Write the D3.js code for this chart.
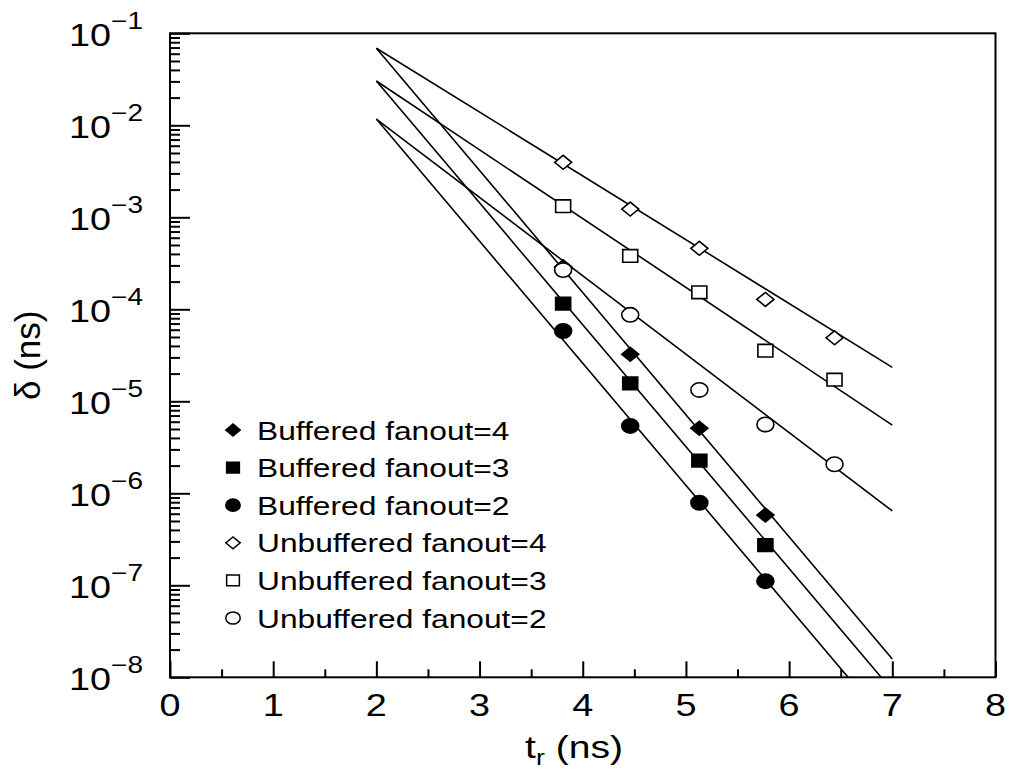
<!DOCTYPE html>
<html><head><meta charset="utf-8">
<script src="https://cdn.jsdelivr.net/npm/d3@7/dist/d3.min.js"></script>
<style>body{margin:0;background:#fff}svg{display:block}text{font-family:"Liberation Sans",Arial,sans-serif;fill:#000}</style>
</head><body>
<svg id="c" width="1010" height="775"></svg>
<script>
// ---- data ----
const xTicks = [0,1,2,3,4,5,6,7,8];
const yExps = [-1,-2,-3,-4,-5,-6,-7,-8];
const xBuf = [3.81, 4.46, 5.13, 5.77];
const xUnbuf = [3.81, 4.46, 5.13, 5.77, 6.44];
const buf4 = [2.9e-4, 3.24e-5, 5.1e-6, 5.8e-7];
const buf3 = [1.15e-4, 1.57e-5, 2.26e-6, 2.74e-7];
const buf2 = [5.8e-5, 5.4e-6, 7.9e-7, 1.11e-7];
const unbuf4 = [3.96e-3, 1.23e-3, 4.6e-4, 1.28e-4, 4.9e-5];
const unbuf3 = [1.32e-3, 3.8e-4, 1.53e-4, 3.55e-5, 1.72e-5];
const unbuf2 = [2.67e-4, 8.7e-5, 1.33e-5, 5.6e-6, 2.07e-6];
// fitted lines: [start, end] as [x, y]
const fitBuf4 = [[2, 0.0687], [7, 1.58e-8]];
const fitBuf3 = [[2, 0.0303], [7, 7.2e-9]];
const fitBuf2 = [[2, 0.0117], [7, 2.7e-9]];
const fitUnbuf4 = [[2, 0.0687], [7, 2.34e-5]];
const fitUnbuf3 = [[2, 0.0303], [7, 5.52e-6]];
const fitUnbuf2 = [[2, 0.0117], [7, 6.43e-7]];
const legendLabels = ["Buffered fanout=4","Buffered fanout=3","Buffered fanout=2","Unbuffered fanout=4","Unbuffered fanout=3","Unbuffered fanout=2"];

const series = [
  {name: legendLabels[0], xs: xBuf, ys: buf4, fit: fitBuf4, shape: "diamond", filled: true},
  {name: legendLabels[1], xs: xBuf, ys: buf3, fit: fitBuf3, shape: "square", filled: true},
  {name: legendLabels[2], xs: xBuf, ys: buf2, fit: fitBuf2, shape: "circle", filled: true},
  {name: legendLabels[3], xs: xUnbuf, ys: unbuf4, fit: fitUnbuf4, shape: "diamond", filled: false},
  {name: legendLabels[4], xs: xUnbuf, ys: unbuf3, fit: fitUnbuf3, shape: "square", filled: false},
  {name: legendLabels[5], xs: xUnbuf, ys: unbuf2, fit: fitUnbuf2, shape: "circle", filled: false}
];

// ---- layout ----
const L = 170, R = 995.5, T = 33.3, B = 677.3;
const SX = 1.22; // horizontal text stretch of the original
const svg = d3.select("#c");
const x = d3.scaleLinear().domain([0, 8]).range([L, R]);
const y = d3.scaleLog().domain([1e-8, 1e-1]).range([B, T]);

svg.append("clipPath").attr("id","clip").append("rect")
  .attr("x", L).attr("y", T).attr("width", R - L).attr("height", B - T);

// ticks
const yMajor = yExps.map(e => Math.pow(10, e));
const yMinor = [];
for (let e = -8; e < -1; e++) for (let m = 2; m <= 9; m++) yMinor.push(m * Math.pow(10, e));
const xMinor = d3.range(0.5, 8, 1);

function styleAxis(g){ g.select(".domain").remove(); g.selectAll("line").attr("stroke","#000").attr("stroke-width",2); }
svg.append("g").attr("transform",`translate(0,${B})`)
  .call(d3.axisBottom(x).tickValues(xTicks).tickSize(-16).tickFormat("")).call(styleAxis);
svg.append("g").attr("transform",`translate(0,${B})`)
  .call(d3.axisBottom(x).tickValues(xMinor).tickSize(-8).tickFormat("")).call(styleAxis);
svg.append("g").attr("transform",`translate(${L},0)`)
  .call(d3.axisLeft(y).tickValues(yMajor).tickSize(-20).tickFormat("")).call(styleAxis);
svg.append("g").attr("transform",`translate(${L},0)`)
  .call(d3.axisLeft(y).tickValues(yMinor).tickSize(-10).tickFormat("")).call(styleAxis);

// frame
svg.append("rect").attr("x", L).attr("y", T).attr("width", R - L).attr("height", B - T)
  .attr("fill","none").attr("stroke","#000").attr("stroke-width",2);

// x tick labels
svg.append("g").selectAll("text").data(xTicks).join("text")
  .attr("transform", d => `translate(${x(d)},716) scale(${SX},1)`).attr("text-anchor","middle")
  .attr("font-size", 31).text(d => d);

// y tick labels
const yl = svg.append("g").selectAll("text").data(yExps).join("text")
  .attr("transform", d => `translate(143,${y(Math.pow(10, d)) + 12.5}) scale(${SX},1)`)
  .attr("text-anchor","end").attr("font-size", 31);
yl.append("tspan").text("10");
yl.append("tspan").attr("font-size", 23).attr("dy", -16.5).text(d => "\u2212" + Math.abs(d));

// axis titles
const xt = svg.append("text").attr("transform", `translate(574,758) scale(${SX},1)`)
  .attr("text-anchor","middle").attr("font-size", 32);
xt.append("tspan").text("t");
xt.append("tspan").attr("font-size", 22).attr("dy", 7).text("r");
xt.append("tspan").attr("dy", -7).text(" (ns)");

svg.append("text").attr("transform", `translate(40,${(T + B) / 2}) rotate(-90)`)
  .attr("text-anchor","middle").attr("font-size", 35).text("\u03b4 (ns)");

// fit lines
const line = d3.line().x(d => x(d[0])).y(d => y(d[1]));
svg.append("g").attr("clip-path","url(#clip)").selectAll("path").data(series).join("path")
  .attr("d", d => line(d.fit)).attr("fill","none").attr("stroke","#000").attr("stroke-width",1.6);

// markers
function markerPath(shape, s){
  const k = s || 1;
  if (shape === "diamond") { const w = 8.5*k, h = 7*k; return `M${-w},0L0,${-h}L${w},0L0,${h}Z`; }
  if (shape === "square") { const w = 7.5*k, h = 6.3*k; return `M${-w},${-h}H${w}V${h}H${-w}Z`; }
  const rx = 8.5*k, ry = 7.2*k;
  return `M${-rx},0A${rx},${ry} 0 1,0 ${rx},0A${rx},${ry} 0 1,0 ${-rx},0Z`;
}
series.forEach(s => {
  svg.append("g").selectAll("path").data(s.xs.map((xv, i) => [xv, s.ys[i]])).join("path")
    .attr("transform", d => `translate(${x(d[0])},${y(d[1])})`)
    .attr("d", markerPath(s.shape))
    .attr("fill", s.filled ? "#000" : "#fff")
    .attr("stroke","#000").attr("stroke-width", 1.6);
});

// legend
const lg = svg.append("g").selectAll("g").data(series).join("g")
  .attr("transform", (d, i) => `translate(233,${430 + i * 37.6})`);
lg.append("path").attr("d", d => markerPath(d.shape, 0.85))
  .attr("fill", d => d.filled ? "#000" : "#fff").attr("stroke","#000").attr("stroke-width",1.5);
lg.append("text").attr("transform", `translate(24,9.5) scale(${SX},1)`).attr("font-size", 26).text(d => d.name);
</script>
</body></html>
